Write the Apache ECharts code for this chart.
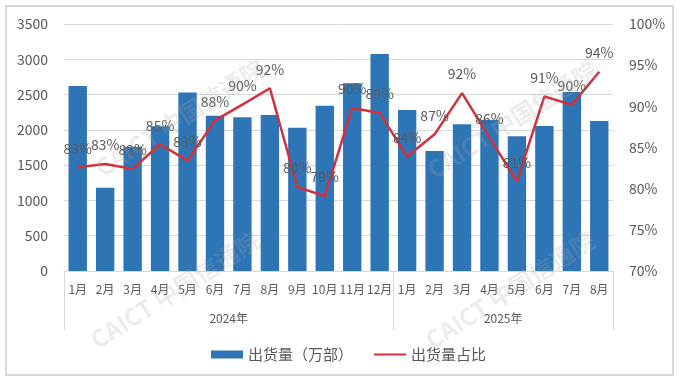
<!DOCTYPE html>
<html>
<head>
<meta charset="utf-8">
<script src="https://cdn.jsdelivr.net/npm/echarts@6/dist/echarts.min.js"></script>
<style>
html,body{margin:0;padding:0;background:#fff;}
#c{width:680px;height:381px;}
</style>
</head>
<body>
<div id="c"></div>
<script>
// ---- data ----
const months = ['1月','2月','3月','4月','5月','6月','7月','8月','9月','10月','11月','12月',
                '1月','2月','3月','4月','5月','6月','7月','8月'];
const years = ['2024年','2025年'];
const yearMonthCounts = [12, 8];
const shipments = [2620,1180,1760,2050,2530,2200,2180,2210,2030,2340,2660,3075,
                   2280,1700,2080,2140,1910,2055,2535,2125];
const sharePct = [82.6,83.0,82.4,85.4,83.4,88.3,90.2,92.2,80.2,79.1,89.8,89.2,
                  83.9,86.6,91.6,86.2,80.9,91.2,90.2,94.2];
const leftTicks = {min:0, max:3500, interval:500};
const rightTicks = {min:70, max:100, interval:5};
const barName = '出货量（万部）';
const lineName = '出货量占比';
const watermarkText = 'CAICT 中国信通院';

// group boundaries and centres for the year axis
const bounds = [0];
yearMonthCounts.forEach(n => bounds.push(bounds[bounds.length-1] + n));
const centres = yearMonthCounts.map((n,i) => bounds[i] + n/2);

const FONT = '"Noto Sans CJK SC","Noto Sans",sans-serif';
const TXT = '#595959';
const GRID = '#d9d9d9';
const RED = '#d0313d';

function wm(x, y){
  return {type:'text', x:x, y:y, rotation:Math.PI*0.18, silent:true, z:100,
    style:{text:watermarkText, fill:'rgba(170,170,170,0.22)', fontSize:24, fontWeight:'bold',
           fontFamily:FONT, align:'center', verticalAlign:'middle'}};
}

const chart = echarts.init(document.getElementById('c'));
chart.setOption({
  animation:false,
  backgroundColor:'#fff',
  textStyle:{fontFamily:FONT},
  grid:{left:64, right:67, top:24, bottom:110, containLabel:false},
  legend:{
    data:[{name:barName, icon:'rect'},
          {name:lineName, icon:'path://M0,0L100,0L100,6L0,6Z', itemStyle:{color:RED}}],
    top:342, left:206,
    itemWidth:32, itemHeight:8, itemGap:21,
    textStyle:{color:TXT, fontSize:15, fontFamily:FONT}
  },
  graphic:[
    {type:'rect', shape:{x:6,y:6,width:667,height:369}, style:{fill:'none', stroke:'#d9d9d9', lineWidth:2}, silent:true, z:-10},
    wm(180,118), wm(175,290), wm(512,120), wm(510,290)
  ],
  xAxis:[
    {
      type:'category', data:months, position:'bottom',
      axisLine:{show:true, lineStyle:{color:GRID, width:1}},
      axisTick:{show:false},
      axisLabel:{color:TXT, fontSize:12, margin:12, interval:0, fontFamily:FONT}
    },
    {
      type:'value', min:0, max:bounds[bounds.length-1], position:'bottom',
      axisLine:{show:false},
      splitLine:{show:false},
      axisTick:{show:true, customValues:bounds, length:59, inside:false, lineStyle:{color:GRID, width:1}},
      axisLabel:{show:true, customValues:centres, margin:41, color:TXT, fontSize:12, fontFamily:FONT,
        formatter:function(v){ const i = centres.indexOf(v); return i>=0 ? years[i] : ''; }}
    }
  ],
  yAxis:[
    {
      type:'value', min:leftTicks.min, max:leftTicks.max, interval:leftTicks.interval,
      axisLine:{show:false}, axisTick:{show:false},
      axisLabel:{color:TXT, fontSize:14, margin:16, fontFamily:FONT, formatter:function(v){return String(v);}},
      splitLine:{show:true, lineStyle:{color:GRID, width:1}}
    },
    {
      type:'value', min:rightTicks.min, max:rightTicks.max, interval:rightTicks.interval,
      axisLine:{show:false}, axisTick:{show:false},
      axisLabel:{color:TXT, fontSize:14, margin:16, fontFamily:FONT, formatter:'{value}%'},
      splitLine:{show:false}
    }
  ],
  series:[
    {
      name:barName, type:'bar', data:shipments, xAxisIndex:0, yAxisIndex:0,
      barCategoryGap:'33%',
      itemStyle:{color:'#2e75b6'}
    },
    {
      name:lineName, type:'line', data:sharePct, xAxisIndex:0, yAxisIndex:1,
      symbol:'circle', symbolSize:0, showSymbol:true,
      lineStyle:{color:RED, width:2.5},
      itemStyle:{color:RED},
      label:{show:true, position:'top', distance:12, color:TXT, fontSize:14, fontFamily:FONT,
        formatter:function(p){ return Math.round(p.value) + '%'; }},
      labelLayout:{hideOverlap:false},
      z:5
    }
  ]
});
</script>
</body>
</html>
